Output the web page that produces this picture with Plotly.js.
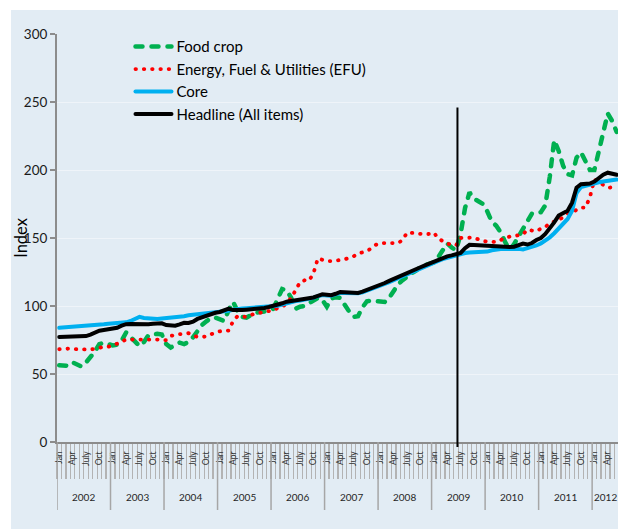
<!DOCTYPE html>
<html>
<head>
<meta charset="utf-8">
<script src="https://cdn.plot.ly/plotly-3.0.1.min.js"></script>
<style>
  html, body { margin: 0; padding: 0; background: #ffffff; overflow: hidden; }
  #chart { position: absolute; left: 11px; top: 10px; }
  #chart .scatterlayer .js-line, #chart .legendlines path { stroke-linecap: round; }
</style>
</head>
<body>
<div id="chart"></div>
<script>
// ---- Data (monthly, Jan 2002 – Jun 2012) ----
const years = [2002, 2003, 2004, 2005, 2006, 2007, 2008, 2009, 2010, 2011, 2012];
const tickMonthLabels = ['Jan', 'Apr', 'July', 'Oct'];
const tickMonthOffsets = [0, 3, 6, 9];

const foodCrop = [
  56.4, 56.3, 56.0, 58.5, 57.0, 55.5, 58.5, 62.0, 66.5, 72.0, 73.0, 72.0,
  71.0, 71.5, 74.5, 80.5, 77.5, 73.5, 70.5, 73.5, 78.5, 79.0, 79.5, 79.0,
  72.0, 69.5, 71.0, 73.0, 72.0, 73.5, 77.0, 82.0, 86.0, 88.7, 91.2, 91.5,
  90.5, 89.0, 97.0, 103.0, 96.0, 92.0, 91.5, 93.0, 95.0, 95.5, 96.0, 96.5,
  98.0, 105.0, 112.5, 111.5, 106.0, 98.0, 99.5, 100.0, 102.0, 104.2, 106.0, 104.5,
  99.5, 105.5, 106.5, 106.0, 100.5, 96.0, 92.0, 92.5, 99.0, 103.5, 104.0, 103.5,
  103.0, 103.0, 106.0, 111.5, 116.0, 119.0, 122.0, 124.0, 126.0, 128.7, 130.0, 131.0,
  132.0, 136.0, 141.0, 146.0, 143.0, 141.0, 153.0, 172.0, 183.5, 179.0, 177.0, 175.0,
  169.5, 162.0, 159.0, 154.0, 147.0, 141.5, 145.5, 151.0, 156.0, 163.0, 168.0, 168.5,
  169.0, 174.0, 195.0, 222.0, 214.0, 203.0, 197.0, 196.0, 209.0, 213.0, 207.0, 200.0,
  200.0, 214.0, 229.0, 241.5, 236.0, 228.0
];
const efu = [
  68.2, 68.5, 68.6, 68.4, 68.2, 68.0, 68.0, 68.0, 68.5, 69.6, 70.0, 70.0,
  71.0, 72.3, 74.0, 75.3, 75.3, 75.3, 75.8, 76.0, 75.6, 75.5, 75.3, 75.0,
  74.8, 78.0, 79.0, 79.3, 79.6, 80.0, 78.5, 77.2, 77.3, 77.5, 79.2, 80.5,
  81.4, 81.7, 81.9, 89.0, 92.6, 92.2, 92.0, 93.5, 94.5, 95.0, 95.5, 96.1,
  97.0, 98.5, 99.3, 102.0, 105.9, 111.5, 117.6, 118.9, 118.5, 124.0, 135.0, 134.0,
  133.0, 133.0, 133.2, 133.8, 134.3, 135.5, 136.5, 138.5, 139.5, 140.4, 142.4, 145.0,
  146.3, 146.2, 146.0, 146.3, 146.3, 148.5, 154.0, 153.8, 153.2, 153.0, 152.7, 153.0,
  154.0, 149.6, 147.8, 145.9, 145.0, 144.6, 150.0, 150.2, 150.3, 150.3, 149.0, 147.8,
  147.4, 147.0, 147.0, 148.5, 150.3, 151.0, 151.3, 152.0, 152.7, 156.2, 155.5, 155.0,
  156.9, 158.0, 161.0, 162.0, 163.0, 165.5, 168.0, 169.0, 170.5, 172.4, 172.4, 180.0,
  193.0, 191.0, 189.0, 187.0, 187.2, 187.5
];
const core = [
  84.0, 84.2, 84.4, 84.6, 84.8, 85.0, 85.2, 85.5, 85.8, 86.2, 86.6, 87.0,
  87.2, 87.4, 87.6, 88.0, 89.0, 90.5, 92.0, 91.2, 90.8, 90.5, 90.5, 90.8,
  91.0, 91.3, 91.6, 92.0, 92.5, 93.2, 93.5, 93.8, 94.0, 94.5, 95.0, 95.3,
  95.6, 96.0, 96.5, 97.2, 98.0, 98.2, 98.4, 98.6, 98.8, 99.0, 99.2, 99.4,
  99.6, 100.2, 101.0, 102.0, 103.0, 103.6, 104.0, 104.5, 105.0, 106.0, 107.2, 108.0,
  107.8, 107.6, 108.5, 109.5, 109.6, 109.3, 109.2, 109.3, 110.0, 111.2, 112.3, 113.3,
  114.5, 116.0, 117.5, 119.0, 120.5, 122.0, 123.5, 125.0, 126.3, 127.5, 129.0, 130.5,
  131.8, 133.2, 134.5, 135.5, 136.3, 137.2, 138.2, 139.0, 139.3, 139.5, 139.6, 139.7,
  140.0, 141.0, 141.7, 141.9, 142.0, 142.2, 142.2, 142.0, 141.6, 142.5, 143.0, 144.5,
  146.0, 148.0, 150.5, 153.5, 157.0, 160.0, 164.0, 170.0, 183.0, 187.5, 188.5, 189.0,
  190.0, 191.0, 191.5, 192.0, 192.5, 193.0
];
const headline = [
  77.2, 77.3, 77.4, 77.5, 77.6, 77.7, 77.9, 79.0, 80.5, 81.8, 82.3, 82.8,
  83.3, 84.0, 85.5, 86.6, 86.7, 86.6, 86.6, 86.7, 86.6, 87.0, 87.5, 87.3,
  86.0, 85.6, 85.5, 86.5, 87.6, 87.5, 88.5, 90.5, 91.6, 93.0, 94.4, 95.0,
  95.6, 96.5, 98.0, 97.0, 96.8, 97.0, 97.3, 97.5, 97.8, 98.0, 98.6, 99.3,
  100.0, 101.0, 102.0, 103.2, 103.7, 104.0, 104.3, 104.7, 105.2, 106.3, 107.5, 108.6,
  108.3, 107.9, 109.0, 110.3, 110.2, 109.8, 109.6, 109.6, 110.5, 111.8, 112.8, 113.8,
  115.0, 116.9, 118.5, 120.0, 121.8, 123.0, 124.5, 126.2, 127.3, 128.5, 129.9, 131.2,
  132.5, 134.1, 135.3, 136.5, 137.2, 138.0, 139.0, 142.5, 145.0, 144.8, 144.6, 144.3,
  144.0, 143.6, 143.4, 143.4, 143.4, 143.4, 143.6, 144.5, 145.9, 145.2, 146.3, 148.5,
  150.0, 153.0, 157.0, 161.5, 166.5, 168.0, 170.0, 176.0, 187.0, 189.5, 190.0, 190.0,
  191.5, 194.0, 196.5, 198.0, 197.5, 196.5
];
// vertical marker between Jun and Jul 2009 (month index from Jan 2002)
const breakMonth = 89.3;
const breakTopValue = 246;

// ---- Derived helpers ----
const n = headline.length;
const monthIdx = headline.map((_, i) => i);

const tickvals = [], ticktext = [];
years.forEach((y, k) => {
  tickMonthOffsets.forEach((m, j) => {
    const idx = k * 12 + m;
    if (idx < n) { tickvals.push(idx); ticktext.push(tickMonthLabels[j]); }
  });
});

const PLOT_H = 408;
const annotations = [];
const shapes = [];
years.forEach((y, k) => {
  const start = k * 12;
  const end = Math.min(start + 11, n - 1);
  annotations.push({
    x: (start + end) / 2, xref: 'x', y: -55 / PLOT_H, yref: 'paper',
    text: String(y), showarrow: false, xanchor: 'center', yanchor: 'middle',
    font: { family: 'Lato, sans-serif', size: 10, color: '#262626' }
  });
  shapes.push({
    type: 'line', xref: 'x', yref: 'paper', x0: start - 0.5, x1: start - 0.5,
    y0: 0, y1: -68 / PLOT_H, line: { color: '#a6a6a6', width: 1.5 }, layer: 'above'
  });
});
shapes.push({
  type: 'line', xref: 'x', yref: 'paper', x0: breakMonth, x1: breakMonth,
  y0: -5 / PLOT_H, y1: breakTopValue / 300, line: { color: '#000000', width: 2 }, layer: 'above'
});

const traces = [
  { name: 'Food crop', x: monthIdx, y: foodCrop, type: 'scatter', mode: 'lines',
    line: { color: '#00b050', width: 4.5, dash: '7px,9px' } },
  { name: 'Energy, Fuel & Utilities (EFU)', x: monthIdx, y: efu, type: 'scatter', mode: 'lines',
    line: { color: '#ff0000', width: 3.8, dash: '0.5px,7.8px' } },
  { name: 'Core', x: monthIdx, y: core, type: 'scatter', mode: 'lines',
    line: { color: '#00b0f0', width: 4 } },
  { name: 'Headline (All items)', x: monthIdx, y: headline, type: 'scatter', mode: 'lines',
    line: { color: '#000000', width: 4 } }
];

const BG = '#e2ecf4';
const layout = {
  width: 607, height: 519,
  margin: { l: 46, r: 0, t: 24, b: 87 },
  paper_bgcolor: BG, plot_bgcolor: BG,
  font: { family: 'Lato, sans-serif', color: '#1a1a1a' },
  showlegend: true,
  legend: {
    x: 0.131, y: 1.009, xanchor: 'left', yanchor: 'top',
    bgcolor: 'rgba(0,0,0,0)', font: { size: 15, color: '#000' },
    tracegroupgap: 0, itemwidth: 36
  },
  xaxis: {
    range: [-0.5, 125.3], showgrid: false, zeroline: false,
    showline: true, linecolor: '#8c8c8c', linewidth: 2,
    tickmode: 'array', tickvals: tickvals, ticktext: ticktext,
    tickangle: -90, ticks: '', tickfont: { size: 8.5, color: '#333' },
    ticklabelstandoff: 4,
    minor: { ticks: 'outside', tick0: 0.5, dtick: 1, ticklen: 35, tickwidth: 1.2,
             tickcolor: '#b3b3b3', showgrid: false }
  },
  yaxis: {
    range: [0, 300], tickvals: [0, 50, 100, 150, 200, 250, 300],
    showgrid: true, gridcolor: 'rgba(255,255,255,0.45)', gridwidth: 1, zeroline: false,
    showline: true, linecolor: '#8c8c8c', linewidth: 2,
    ticks: 'outside', ticklen: 5, tickcolor: '#8c8c8c', tickwidth: 1.5,
    tickfont: { size: 13.5, color: '#1a1a1a' },
    title: { text: 'Index', font: { size: 16.5, color: '#000' }, standoff: 7 }
  },
  shapes: shapes,
  annotations: annotations
};

Plotly.newPlot('chart', traces, layout, { displayModeBar: false, staticPlot: true });
</script>
</body>
</html>
